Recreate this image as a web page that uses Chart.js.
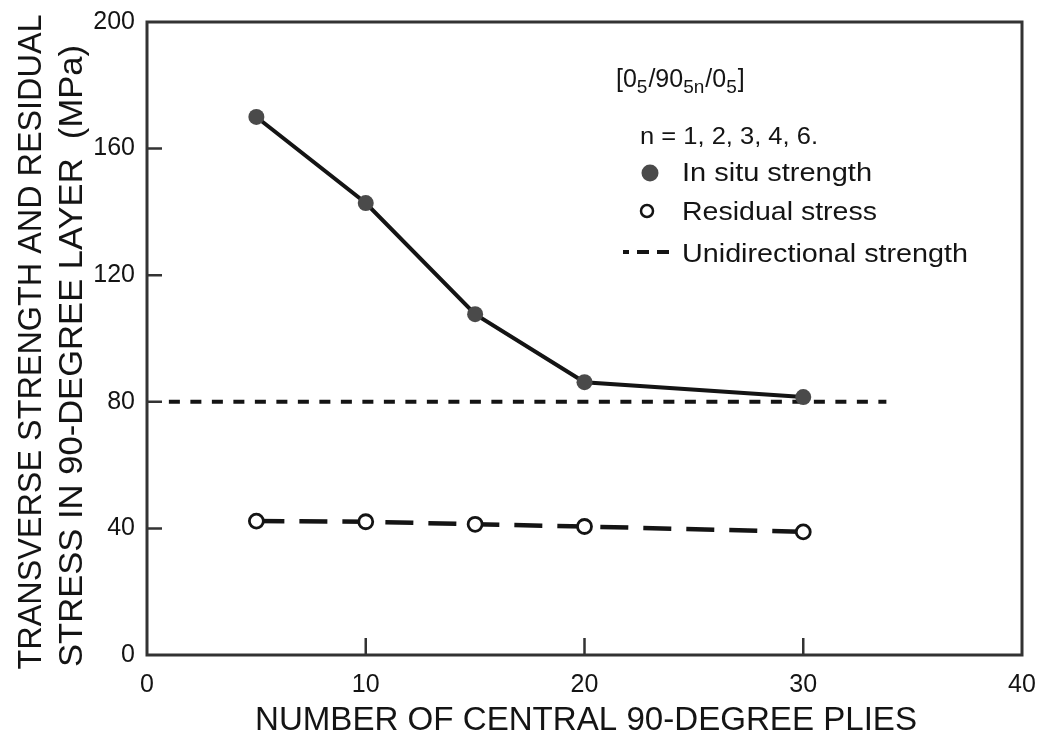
<!DOCTYPE html>
<html>
<head>
<meta charset="utf-8">
<script src="https://cdn.jsdelivr.net/npm/chart.js@4.4.1/dist/chart.umd.min.js"></script>
<style>
  html, body { margin: 0; padding: 0; background: #fff; }
  #wrap { width: 1039px; height: 744px; }
</style>
</head>
<body>
<div id="wrap"><canvas id="chart" width="1039" height="744"></canvas></div>
<script>
// values
const plies = [5, 10, 15, 20, 30];
const inSituStrength = [170.0, 142.8, 107.7, 86.2, 81.5];
const residualStress = [42.3, 42.1, 41.3, 40.6, 38.9];
const unidirX = [1.0, 33.8];
const unidirStrength = [80, 80];
const xTicks = [0, 10, 20, 30, 40];
const yTicks = [0, 40, 80, 120, 160, 200];

const FONT = '"Liberation Sans", Arial, Helvetica, sans-serif';
const INK = '#141414';

function toPoints(xs, ys) {
    return xs.map((x, i) => ({ x: x, y: ys[i] }));
}

// draw text squeezed/stretched to a given width
function drawFit(ctx, text, x, y, width, size, angle, align) {
    ctx.save();
    ctx.font = `${size}px ${FONT}`;
    const w = ctx.measureText(text).width;
    ctx.translate(x, y);
    if (angle) ctx.rotate(angle);
    ctx.scale(width / w, 1);
    ctx.textAlign = align || 'center';
    ctx.textBaseline = 'alphabetic';
    ctx.fillStyle = INK;
    ctx.fillText(text, 0, 0);
    ctx.restore();
}

const decorations = {
    id: 'decorations',
    afterDraw(chart) {
        const ctx = chart.ctx;
        const a = chart.chartArea;
        const xs = chart.scales.x;
        const ys = chart.scales.y;

        // frame
        ctx.save();
        ctx.strokeStyle = '#333';
        ctx.lineWidth = 3;
        ctx.strokeRect(a.left, a.top, a.right - a.left, a.bottom - a.top);

        // inward ticks
        ctx.lineWidth = 2.5;
        ctx.beginPath();
        yTicks.slice(1, -1).forEach(v => {
            const py = ys.getPixelForValue(v);
            ctx.moveTo(a.left, py);
            ctx.lineTo(a.left + 15, py);
        });
        xTicks.slice(1, -1).forEach(v => {
            const px = xs.getPixelForValue(v);
            ctx.moveTo(px, a.bottom);
            ctx.lineTo(px, a.bottom - 17);
        });
        ctx.stroke();
        ctx.restore();

        // axis titles
        drawFit(ctx, 'NUMBER OF CENTRAL 90-DEGREE PLIES', 586, 730, 662, 33, 0);
        drawFit(ctx, 'TRANSVERSE STRENGTH AND RESIDUAL', 41, 342, 655, 34, -Math.PI / 2);
        drawFit(ctx, 'STRESS IN 90-DEGREE LAYER  (MPa)', 82, 356, 622, 34, -Math.PI / 2);

        // legend block
        ctx.save();
        ctx.fillStyle = INK;
        ctx.textBaseline = 'alphabetic';
        ctx.textAlign = 'left';
        let cx = 616;
        const parts = [['[0', 0], ['5', 1], ['/90', 0], ['5n', 1], ['/0', 0], ['5', 1], [']', 0]];
        parts.forEach(([t, sub]) => {
            ctx.font = sub ? `19px ${FONT}` : `25px ${FONT}`;
            ctx.fillText(t, cx, sub ? 93 : 87);
            cx += ctx.measureText(t).width + (sub ? 1 : 0);
        });
        ctx.restore();

        drawFit(ctx, 'n = 1, 2, 3, 4, 6.', 640, 144, 178, 24, 0, 'left');
        drawFit(ctx, 'In situ strength', 682, 181, 190, 25, 0, 'left');
        drawFit(ctx, 'Residual stress', 682, 220, 195, 25, 0, 'left');
        drawFit(ctx, 'Unidirectional strength', 682, 262, 286, 25, 0, 'left');

        ctx.save();
        ctx.fillStyle = '#4a4a4a';
        ctx.beginPath();
        ctx.arc(650, 173, 8.5, 0, Math.PI * 2);
        ctx.fill();

        ctx.strokeStyle = INK;
        ctx.lineWidth = 2.5;
        ctx.beginPath();
        ctx.arc(647, 211, 6, 0, Math.PI * 2);
        ctx.stroke();

        ctx.lineWidth = 4;
        ctx.setLineDash([6, 8, 12, 8, 12, 100]);
        ctx.beginPath();
        ctx.moveTo(623, 252);
        ctx.lineTo(671, 252);
        ctx.stroke();
        ctx.restore();
    }
};

new Chart(document.getElementById('chart'), {
    type: 'scatter',
    data: {
        datasets: [
            {
                label: 'Unidirectional strength',
                data: toPoints(unidirX, unidirStrength),
                showLine: true,
                borderColor: INK,
                borderWidth: 4,
                borderDash: [11, 10.5],
                pointRadius: 0,
                order: 3
            },
            {
                label: 'Residual stress',
                data: toPoints(plies, residualStress),
                showLine: true,
                borderColor: INK,
                borderWidth: 4.5,
                borderDash: [28, 15],
                pointRadius: 7,
                pointBorderWidth: 2.8,
                pointBorderColor: INK,
                pointBackgroundColor: '#ffffff',
                order: 2
            },
            {
                label: 'In situ strength',
                data: toPoints(plies, inSituStrength),
                showLine: true,
                borderColor: INK,
                borderWidth: 4,
                pointRadius: 8,
                pointBorderWidth: 0,
                pointBackgroundColor: '#4a4a4a',
                order: 1
            }
        ]
    },
    options: {
        responsive: false,
        animation: false,
        events: [],
        layout: { padding: { left: 0, right: 17, top: 22, bottom: 0 } },
        plugins: {
            legend: { display: false },
            tooltip: { enabled: false }
        },
        scales: {
            x: {
                type: 'linear',
                min: 0,
                max: 40,
                afterFit(scale) {
                    scale.height = 89;
                    scale.paddingLeft = 0;
                    scale.paddingRight = 0;
                },
                afterBuildTicks(scale) { scale.ticks = xTicks.map(v => ({ value: v })); },
                grid: { display: false, drawTicks: false },
                border: { display: false },
                ticks: {
                    padding: 15,
                    color: INK,
                    font: { family: FONT, size: 25 }
                }
            },
            y: {
                type: 'linear',
                min: 0,
                max: 200,
                afterFit(scale) {
                    scale.width = 147;
                    scale.paddingTop = 0;
                    scale.paddingBottom = 0;
                },
                afterBuildTicks(scale) { scale.ticks = yTicks.map(v => ({ value: v })); },
                grid: { display: false, drawTicks: false },
                border: { display: false },
                ticks: {
                    padding: 12,
                    color: INK,
                    font: { family: FONT, size: 25 }
                }
            }
        }
    },
    plugins: [decorations]
});
</script>
</body>
</html>
